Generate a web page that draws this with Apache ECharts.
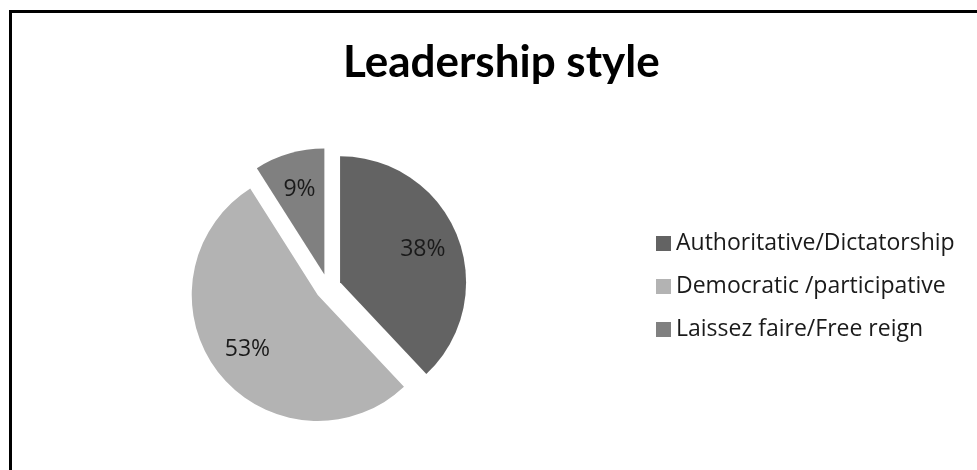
<!DOCTYPE html>
<html style="height: 100%">
<head>
    <meta charset="utf-8">
    <script type="text/javascript" src="https://cdn.jsdelivr.net/npm/echarts@6.0.0/dist/echarts.min.js"></script>
</head>
<body style="height: 100%; margin: 0; background-color: #fff;">
    <div id="main" style="position: absolute; left: 0; top: 0; width: 977px; height: 470px;"></div>
    <!-- frame line, left and top only -->
    <div style="position: absolute; left: 9px; top: 10px; width: 968px; height: 460px; border-left: 3px solid #000; border-top: 3px solid #000; pointer-events: none;"></div>
<script>
var categories = ['Authoritative/Dictatorship', 'Democratic /participative', 'Laissez faire/Free reign'];
var values = [38, 53, 9];
var colors = ['#636363', '#b3b3b3', '#808080'];

var chartDom = document.getElementById('main');
var myChart = echarts.init(chartDom);

var pieData = categories.map(function (name, i) {
    return { name: name, value: values[i], selected: true, itemStyle: { color: colors[i] } };
});

var option = {
    animation: false,
    title: {
        text: 'Leadership style',
        left: 338,
        top: 36,
        textStyle: { fontFamily: 'Lato', fontSize: 44, fontWeight: 'bold', color: '#000' }
    },
    legend: {
        orient: 'vertical',
        left: 651,
        top: 227,
        itemWidth: 15,
        itemHeight: 15,
        itemGap: 20,
        icon: 'rect',
        data: categories,
        textStyle: { fontFamily: 'Open Sans', fontSize: 23, color: '#1a1a1a' }
    },
    series: [
        {
            type: 'pie',
            center: [328, 287],
            radius: [0, 126],
            selectedMode: 'multiple',
            selectedOffset: 13,
            silent: true,
            label: { show: false },
            labelLine: { show: false },
            data: pieData
        },
        {
            // invisible copy only to place the labels further out
            type: 'pie',
            center: [328, 287],
            radius: [0, 172],
            selectedMode: 'multiple',
            selectedOffset: 13,
            silent: true,
            legendHoverLink: false,
            itemStyle: { color: 'rgba(0,0,0,0)' },
            label: {
                show: true,
                position: 'inside',
                formatter: '{c}%',
                fontFamily: 'Open Sans',
                fontSize: 23,
                color: '#1a1a1a'
            },
            labelLine: { show: false },
            data: categories.map(function (name, i) {
                return { name: name, value: values[i], selected: true };
            })
        }
    ]
};

myChart.setOption(option);
</script>
</body>
</html>
